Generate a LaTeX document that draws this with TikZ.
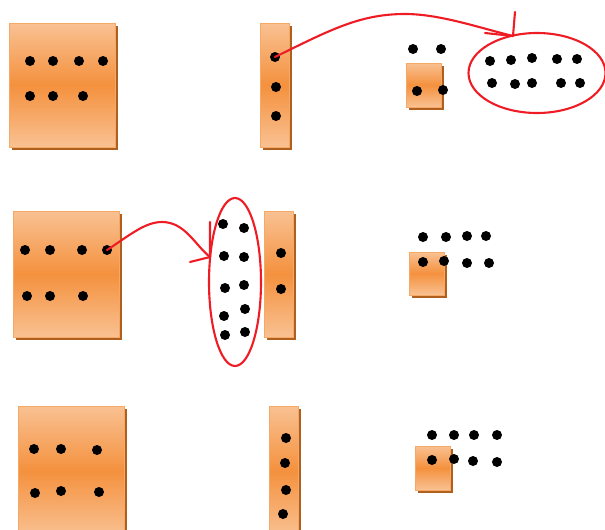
\documentclass[tikz,border=0pt]{standalone}
\usetikzlibrary{shapes.geometric,shadows}
\definecolor{boxlight}{HTML}{F9C192}
\definecolor{boxmid}{HTML}{F4913E}
\definecolor{boxedge}{HTML}{F6A866}
\definecolor{boxshadow}{HTML}{B0601E}
\definecolor{penred}{HTML}{EE1C25}
\tikzset{
  box/.style={rectangle, inner sep=0pt, draw=boxedge, line width=0.8pt,
    top color=boxlight, bottom color=boxlight, middle color=boxmid,
    general shadow={fill=boxshadow, shadow xshift=2.5pt, shadow yshift=-2.5pt}},
  dot/.style={circle, fill=black, inner sep=0pt, minimum size=10pt},
  pen/.style={draw=penred, line width=2.1pt, line cap=round, line join=round},
  loop/.style={ellipse, draw=penred, line width=2.1pt, inner sep=0pt}
}
\begin{document}
\begin{tikzpicture}[x=1pt,y=-1pt]
\useasboundingbox (0,0) rectangle (605,530);
% boxes
\node[box, minimum width=106pt, minimum height=124pt] (A1) at (62,85) {};
\node[box, minimum width=29pt, minimum height=124pt] (B1) at (274.5,85) {};
\node[box, minimum width=35pt, minimum height=44pt] (C1) at (423.5,85) {};
\node[box, minimum width=106pt, minimum height=126pt] (A2) at (66,274) {};
\node[box, minimum width=29pt, minimum height=126pt] (B2) at (278.5,274) {};
\node[box, minimum width=35pt, minimum height=43pt] (C2) at (426.5,273.5) {};
\node[box, minimum width=106pt, minimum height=130pt] (A3) at (71,471) {};
\node[box, minimum width=29pt, minimum height=130pt] (B3) at (283.5,471) {};
\node[box, minimum width=35pt, minimum height=44pt] (C3) at (432.5,468) {};
% row 1 dots
\foreach \x/\y [count=\i] in {30/61,53/61,79/61,103/61,30/96,53/96,83/96}
  \node[dot] (a1\i) at (\x,\y) {};
\foreach \x/\y [count=\i] in {275/57,276/87,276/116}
  \node[dot] (b1\i) at (\x,\y) {};
\foreach \x/\y [count=\i] in {413/49,441/49,417/91,443/90}
  \node[dot] (c1\i) at (\x,\y) {};
\foreach \x/\y [count=\i] in {490/61,511/60,532/58,557/59,577/59,492/83,515/84,532/83,561/83,580/83}
  \node[dot] (e1\i) at (\x,\y) {};
% row 2 dots
\foreach \x/\y [count=\i] in {25/250,50/250,82/250,107/250,27/296,50/296,83/296}
  \node[dot] (a2\i) at (\x,\y) {};
\foreach \x/\y [count=\i] in {223/224,244/228,224/256,244/257,225/288,244/285,224/316,245/309,225/335,245/332}
  \node[dot] (e2\i) at (\x,\y) {};
\foreach \x/\y [count=\i] in {281/253,281/289}
  \node[dot] (b2\i) at (\x,\y) {};
\foreach \x/\y [count=\i] in {423/237,446/237,467/236,486/236,423/262,444/261,467/263,489/263}
  \node[dot] (c2\i) at (\x,\y) {};
% row 3 dots
\foreach \x/\y [count=\i] in {34/449,61/449,97/450,35/493,61/491,99/492}
  \node[dot] (a3\i) at (\x,\y) {};
\foreach \x/\y [count=\i] in {286/438,285/463,286/490,283/514}
  \node[dot] (b3\i) at (\x,\y) {};
\foreach \x/\y [count=\i] in {432/435,454/435,474/435,497/435,432/460,454/459,473/461,497/462}
  \node[dot] (c3\i) at (\x,\y) {};
% red ellipses
\node[loop, minimum width=137pt, minimum height=80pt] (E1) at (537,73) {};
\node[loop, minimum width=52pt, minimum height=168pt] (E2) at (235,282) {};
% arrow tips (hand drawn)
\coordinate (t1) at (513,36);
\coordinate (t1a) at (515,12);
\coordinate (t1b) at (485,33);
\coordinate (t2) at (210,257);
\coordinate (t2a) at (210,222);
\coordinate (t2b) at (190,262);
% red connectors
\draw[pen] (b11.center) .. controls (330,30) and (360,14) .. (405,14)
  .. controls (440,14) and (480,28) .. (t1);
\draw[pen] (t1a) -- (t1) (t1b) -- (t1);
\draw[pen] (a24.center) .. controls (130,235) and (145,222) .. (162,222)
  .. controls (185,222) and (195,245) .. (t2);
\draw[pen] (t2a) -- (t2) (t2b) -- (t2);
\end{tikzpicture}
\end{document}
